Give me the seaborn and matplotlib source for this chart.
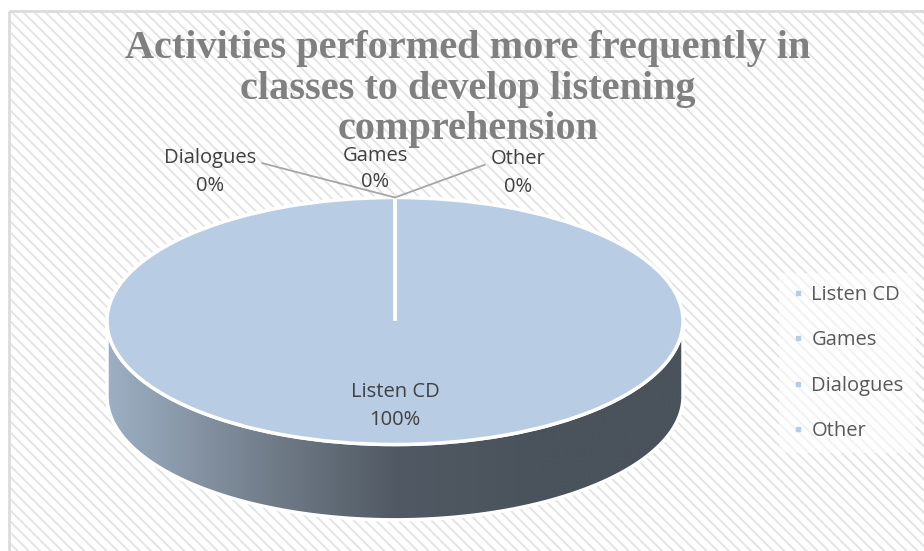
import numpy as np
import matplotlib
matplotlib.use("Agg")
import matplotlib.pyplot as plt
import seaborn as sns
from matplotlib.patches import Rectangle, Polygon
from matplotlib.lines import Line2D

# data
categories = ["Listen CD", "Games", "Dialogues", "Other"]
values = [100, 0, 0, 0]
title = "Activities performed more frequently in\nclasses to develop listening\ncomprehension"

sns.set_theme(style="white")
plt.rcParams['font.family'] = ['Open Sans', 'DejaVu Sans']
plt.rcParams['hatch.linewidth'] = 1.4

W, H = 924, 551
fig = plt.figure(figsize=(W / 100, H / 100), dpi=100)

# background with diagonal stripes and a light border
bg = fig.add_axes([0, 0, 1, 1])
bg.set_xlim(0, W)
bg.set_ylim(H, 0)
bg.axis("off")
bg.add_patch(Rectangle((9, 11), W + 20, H + 20, facecolor="white",
                       edgecolor="#e4e4e4", hatch="\\\\\\", lw=0))
bg.add_patch(Rectangle((9, 11), W + 20, H + 20, facecolor="none",
                       edgecolor="#dcdcdc", lw=2))

# pie axes: the circle is stretched into an ellipse (fake 3d)
cx, cy = 395, 321        # centre of the top face, px
sx, sy = 288, 123.5      # px per data unit
depth = 0.61             # wall height, data units
xlim = (-1.3, 1.3)
ylim = (-1.8, 1.5)
left = cx + xlim[0] * sx
width = (xlim[1] - xlim[0]) * sx
top = cy - ylim[1] * sy
bottom = cy - ylim[0] * sy
ax = fig.add_axes([left / W, 1 - bottom / H, width / W, (bottom - top) / H])

# side wall with a horizontal gradient
t = np.linspace(np.pi, 2 * np.pi, 300)
upper = np.column_stack([np.cos(t), np.sin(t)])
lower = np.column_stack([np.cos(t), np.sin(t) - depth])
wall = Polygon(np.vstack([upper, lower[::-1]]), closed=True,
               facecolor="none", edgecolor="white", lw=2.5, zorder=1.5)
ax.add_patch(wall)
wall_cmap = sns.blend_palette(["#9eafc4", "#76828f", "#515a64", "#4a525b", "#4a525b"],
                              as_cmap=True)
grad = np.linspace(0, 1, 256).reshape(1, -1)
img = ax.imshow(grad, cmap=wall_cmap, extent=(-1, 1, -1 - depth, 0),
                aspect="auto", zorder=1, interpolation="bicubic")
img.set_clip_path(wall)

top_color = "#b8cce4"
wedges, _ = ax.pie(values, colors=[top_color] * len(values), startangle=90,
                   counterclock=False, radius=1,
                   wedgeprops=dict(edgecolor="white", linewidth=2.5, zorder=2))
ax.set_aspect("auto")
ax.set_xlim(*xlim)
ax.set_ylim(*ylim)
ax.axis("off")

total = sum(values)
pcts = [f"{v / total * 100:.0f}%" for v in values]
label_color = "#404040"
fs = 14.5

# big slice label inside
ax.text(0, -0.69, f"{categories[0]}\n{pcts[0]}", ha="center", va="center",
        fontsize=fs, color=label_color, linespacing=1.5, zorder=5)

# zero slices labelled outside with leader lines
outside = {
    "Games": ((-0.069, 1.232), None),
    "Dialogues": ((-0.642, 1.206), (1.0, 0.72)),
    "Other": ((0.427, 1.198), (0.0, 0.72)),
}
for i in range(1, len(categories)):
    ang = np.deg2rad(wedges[i].theta1)
    tip = (np.cos(ang), np.sin(ang))
    pos, rel = outside[categories[i]]
    txt = f"{categories[i]}\n{pcts[i]}"
    if rel is None:
        ax.text(pos[0], pos[1], txt, ha="center", va="center", fontsize=fs,
                color=label_color, linespacing=1.4, zorder=5)
    else:
        ax.annotate(txt, xy=tip, xytext=pos, ha="center", va="center",
                    fontsize=fs, color=label_color, linespacing=1.5, zorder=5,
                    arrowprops=dict(arrowstyle="-", color="#a6a6a6", lw=1.3,
                                    relpos=rel, shrinkA=2, shrinkB=0))

# legend
handles = [Line2D([], [], marker="s", ls="", markersize=3, color=top_color)
           for _ in categories]
fig.legend(handles, categories, loc="center left",
           bbox_to_anchor=(769 / W, 1 - 363 / H), frameon=True,
           facecolor="white", framealpha=0.55, edgecolor="none", fontsize=fs,
           labelspacing=1.25, handletextpad=0.3, handlelength=0.7,
           labelcolor="#595959", borderpad=0.6)

# title
fig.text(468 / W, 1 - 89 / H, title, ha="center", va="center", fontsize=29,
         fontweight="bold", family=["Liberation Serif", "DejaVu Serif"],
         color="#808080", linespacing=1.12)

fig.savefig("out.png", dpi=100)
